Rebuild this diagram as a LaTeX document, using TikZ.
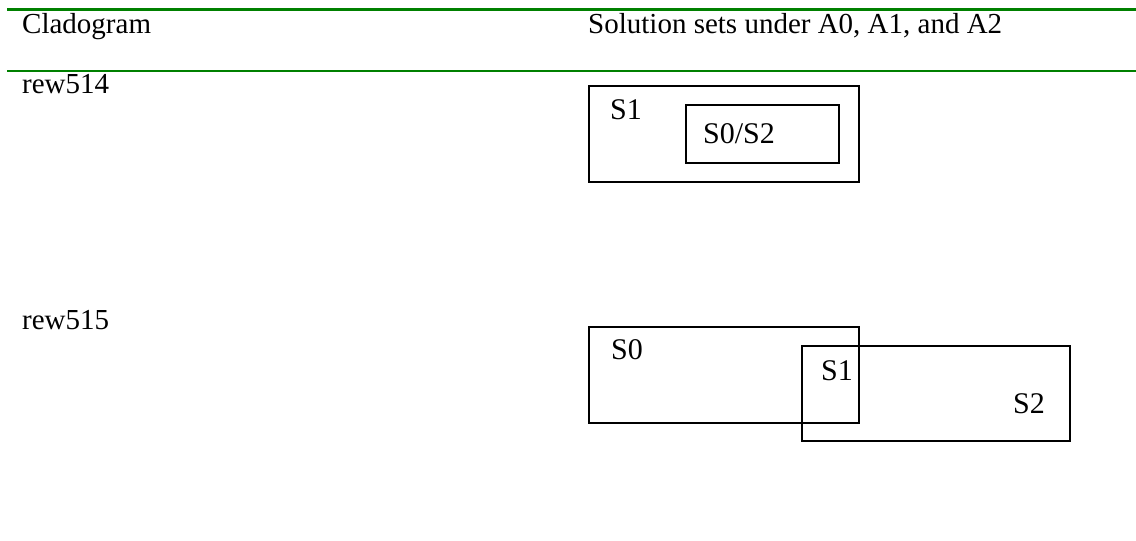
\documentclass[tikz,border=0pt]{standalone}
\usepackage{fontspec}
\setmainfont{Liberation Serif}
\definecolor{rulegreen}{RGB}{0,128,0}
\tikzset{
  heading/.style={anchor=base west, inner sep=0pt, font=\fontsize{29pt}{33pt}\selectfont},
  setlabel/.style={anchor=base west, inner sep=0pt, font=\fontsize{30pt}{34pt}\selectfont},
  setbox/.style={draw=black, line width=2pt, rectangle, inner sep=0pt, anchor=north west},
  greenrule/.style={draw=rulegreen}
}
\begin{document}
\begin{tikzpicture}[x=1pt,y=-1pt]
\useasboundingbox (0,0) rectangle (1136,541);
% rules
\coordinate (r1a) at (7,9.5);
\coordinate (r1b) at (1136,9.5);
\coordinate (r2a) at (7,71);
\coordinate (r2b) at (1136,71);
\draw[greenrule, line width=3.5pt] (r1a) -- (r1b);
\draw[greenrule, line width=2pt] (r2a) -- (r2b);
% headings
\node[heading] (hclad) at (22,33) {Cladogram};
\node[heading] (hsol) at (588,33) {Solution sets under A0, A1, and A2};
\node[heading] (rowa) at (22,93) {rew514};
\node[heading] (rowb) at (22,329) {rew515};
% rew514 boxes
\node[setbox, minimum width=270pt, minimum height=96pt] (boxA) at (588,85) {};
\node[setbox, minimum width=153pt, minimum height=58pt] (boxB) at (685,104) {};
\node[setlabel] (lA) at (610,119) {S1};
\node[setlabel] (lB) at (703,143) {S0/S2};
% rew515 boxes
\node[setbox, minimum width=270pt, minimum height=96pt] (boxC) at (588,326) {};
\node[setbox, minimum width=268pt, minimum height=95pt] (boxD) at (801,345) {};
\node[setlabel] (lC) at (611,359) {S0};
\node[setlabel] (lI) at (821,380) {S1};
\node[setlabel] (lD) at (1013,413) {S2};
\end{tikzpicture}
\end{document}
